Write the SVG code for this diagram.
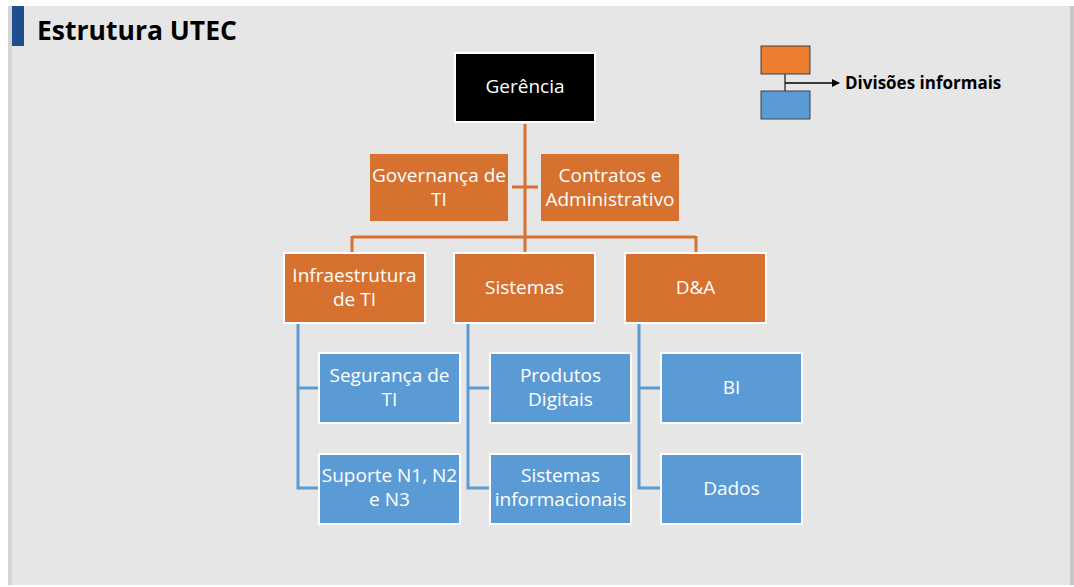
<svg xmlns="http://www.w3.org/2000/svg" width="1074" height="587" viewBox="0 0 1074 587">
<style>
.t{font-family:"Open Sans","Noto Sans","Liberation Sans",sans-serif;font-size:19px;fill:#ffffff;text-anchor:middle}
.or{fill:#d67130}
.orb{fill:#d67130;stroke:#ffffff;stroke-width:2}
.bl{fill:#5b9bd5;stroke:#ffffff;stroke-width:2}
.ol{stroke:#d67130;stroke-width:3;fill:none}
.bll{stroke:#5b9bd5;stroke-width:3;fill:none}
</style>
<defs>
<marker id="arr" markerWidth="8" markerHeight="8" refX="7" refY="4" orient="auto" markerUnits="userSpaceOnUse">
<path d="M0,0 L8,4 L0,8 Z" fill="#000"/>
</marker>
</defs>
<rect x="0" y="0" width="1074" height="587" fill="#ffffff"/>
<rect x="8" y="6" width="1066" height="579" fill="#e6e6e6"/>
<rect x="8" y="6" width="4" height="579" fill="#d4d4d4"/>
<rect x="1070" y="6" width="4" height="579" fill="#c8c8c8"/>
<rect x="12" y="6" width="12" height="40" fill="#1f4e8c"/>
<text x="37" y="40" font-family="'Open Sans','Noto Sans','Liberation Sans',sans-serif" font-size="26.5" font-weight="bold" fill="#000">Estrutura UTEC</text>

<g id="legend">
<rect x="761" y="46" width="49" height="28" fill="#ed7d31" stroke="#404040" stroke-width="1"/>
<rect x="761" y="91" width="49" height="28" fill="#5b9bd5" stroke="#404040" stroke-width="1"/>
<line x1="785" y1="74" x2="785" y2="91" stroke="#404040" stroke-width="1.5"/>
<line x1="785" y1="83" x2="839" y2="83" stroke="#000" stroke-width="1.5" marker-end="url(#arr)"/>
<text x="845" y="89" font-family="'Open Sans','Noto Sans','Liberation Sans',sans-serif" font-size="17" font-weight="bold" fill="#000">Divisões informais</text>
</g>

<g id="connectors">
<path class="ol" d="M525,124 V252"/>
<path class="ol" d="M512,187 H538"/>
<path class="ol" d="M352,237 H696"/>
<path class="ol" d="M352,236 V252"/>
<path class="ol" d="M696,236 V252"/>
<path class="bll" d="M298,324 V488 H318 M298,388 H318"/>
<path class="bll" d="M468,324 V488 H489 M468,388 H489"/>
<path class="bll" d="M639,324 V488 H660 M639,388 H660"/>
</g>

<g id="gerencia">
<rect x="455" y="53" width="140" height="69" fill="#000" stroke="#ffffff" stroke-width="2"/>
<text class="t" x="525" y="93">Gerência</text>
</g>
<g id="governanca">
<rect class="or" x="370" y="154" width="138" height="67"/>
<text class="t" x="439" y="182">Governança de</text>
<text class="t" x="439" y="206">TI</text>
</g>
<g id="contratos">
<rect class="or" x="541" y="154" width="138" height="67"/>
<text class="t" x="610" y="182">Contratos e</text>
<text class="t" x="610" y="206">Administrativo</text>
</g>
<g id="infra">
<rect class="orb" x="284" y="253" width="141" height="70"/>
<text class="t" x="354.5" y="282">Infraestrutura</text>
<text class="t" x="354.5" y="306">de TI</text>
</g>
<g id="sistemas">
<rect class="orb" x="454" y="253" width="141" height="70"/>
<text class="t" x="524.5" y="294">Sistemas</text>
</g>
<g id="da">
<rect class="orb" x="625" y="253" width="141" height="70"/>
<text class="t" x="695.5" y="294">D&amp;A</text>
</g>
<g id="seguranca">
<rect class="bl" x="319" y="353" width="141" height="70"/>
<text class="t" x="389.5" y="382">Segurança de</text>
<text class="t" x="389.5" y="406">TI</text>
</g>
<g id="suporte">
<rect class="bl" x="319" y="454" width="141" height="70"/>
<text class="t" x="389.5" y="482">Suporte N1, N2</text>
<text class="t" x="389.5" y="506">e N3</text>
</g>
<g id="produtos">
<rect class="bl" x="490" y="353" width="141" height="70"/>
<text class="t" x="560.5" y="382">Produtos</text>
<text class="t" x="560.5" y="406">Digitais</text>
</g>
<g id="sisinfo">
<rect class="bl" x="490" y="454" width="141" height="70"/>
<text class="t" x="560.5" y="482">Sistemas</text>
<text class="t" x="560.5" y="506">informacionais</text>
</g>
<g id="bi">
<rect class="bl" x="661" y="353" width="141" height="70"/>
<text class="t" x="731.5" y="394">BI</text>
</g>
<g id="dados">
<rect class="bl" x="661" y="454" width="141" height="70"/>
<text class="t" x="731.5" y="495">Dados</text>
</g>
</svg>
